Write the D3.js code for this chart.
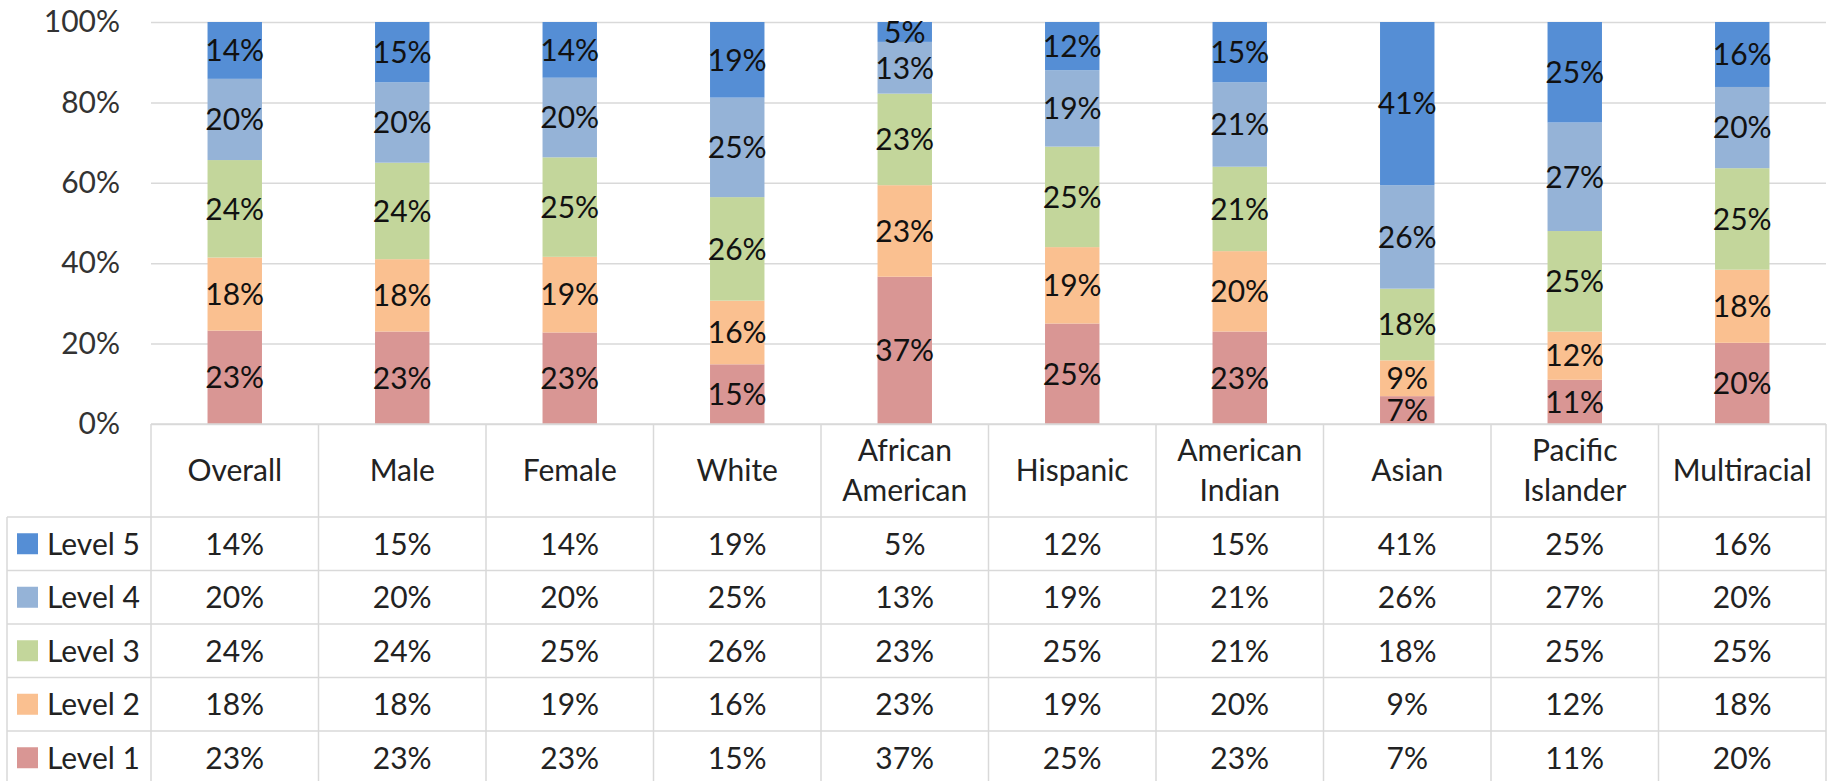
<!DOCTYPE html>
<html>
<head>
<meta charset="utf-8">
<script src="https://cdn.jsdelivr.net/npm/d3@7"></script>
<style>
  body { margin: 0; background: #fff; }
  svg { display: block; font-family: Lato, "Open Sans", sans-serif; }
</style>
</head>
<body>
<svg id="chart" width="1831" height="781"></svg>
<script>
// data
var categories = ['Overall', 'Male', 'Female', 'White', 'African American', 'Hispanic',
    'American Indian', 'Asian', 'Pacific Islander', 'Multiracial'];
var levels = ['Level 1', 'Level 2', 'Level 3', 'Level 4', 'Level 5'];
var level1 = [23, 23, 23, 15, 37, 25, 23, 7, 11, 20];
var level2 = [18, 18, 19, 16, 23, 19, 20, 9, 12, 18];
var level3 = [24, 24, 25, 26, 23, 25, 21, 18, 25, 25];
var level4 = [20, 20, 20, 25, 13, 19, 21, 26, 27, 20];
var level5 = [14, 15, 14, 19, 5, 12, 15, 41, 25, 16];
var yTicks = [0, 0.2, 0.4, 0.6, 0.8, 1];

var colors = ['#D99694', '#FAC090', '#C3D69B', '#95B3D7', '#558ED5'];

var width = 1831, height = 781;
var plot = { left: 151, right: 1826, top: 22, bottom: 424 };
var tbl = { legendLeft: 7, headBottom: 517, rowHgt: 53.5 };
var fs = 30;
var lineCol = '#D9D9D9';

var series = [level1, level2, level3, level4, level5];
var rows = categories.map(function(c, i) {
    var r = { cat: c };
    levels.forEach(function(l, j) { r[l] = series[j][i]; });
    return r;
});
var stacked = d3.stack().keys(levels).offset(d3.stackOffsetExpand)(rows);

var x = d3.scaleBand().domain(categories).range([plot.left, plot.right]);
var y = d3.scaleLinear().domain([0, 1]).range([plot.bottom, plot.top]);
var color = d3.scaleOrdinal().domain(levels).range(colors);
var barW = x.bandwidth() * 0.325;

var svg = d3.select('#chart');

// gridlines + y labels
var yAxis = svg.append('g')
    .attr('transform', 'translate(' + plot.left + ',0)')
    .call(d3.axisLeft(y).tickValues(yTicks).tickFormat(d3.format('.0%'))
        .tickSize(-(plot.right - plot.left)).tickPadding(31));
yAxis.select('.domain').remove();
yAxis.selectAll('line').attr('stroke', lineCol).attr('stroke-width', 1.5);
yAxis.selectAll('text').attr('font-size', fs).attr('fill', '#333')
    .attr('font-family', 'Lato, sans-serif');

// bars
var layer = svg.append('g').selectAll('g')
    .data(stacked).join('g')
    .attr('fill', function(d) { return color(d.key); });

layer.selectAll('rect')
    .data(function(d) { return d; }).join('rect')
    .attr('x', function(d) { return x(d.data.cat) + (x.bandwidth() - barW) / 2; })
    .attr('width', barW)
    .attr('y', function(d) { return y(d[1]); })
    .attr('height', function(d) { return y(d[0]) - y(d[1]); });

// data labels
var lbl = svg.append('g').selectAll('g')
    .data(stacked).join('g');
lbl.selectAll('text')
    .data(function(s) { return s.map(function(d) { d.key = s.key; return d; }); })
    .join('text')
    .attr('x', function(d) { return x(d.data.cat) + x.bandwidth() / 2; })
    .attr('y', function(d) { return (y(d[0]) + y(d[1])) / 2; })
    .attr('dy', '0.36em')
    .attr('text-anchor', 'middle')
    .attr('font-size', fs)
    .attr('fill', '#111')
    .text(function(d) { return d.data[d.key] + '%'; });

// data table
var tableRows = levels.slice().reverse();
var rowY = function(i) { return tbl.headBottom + i * tbl.rowHgt; };
var tBottom = rowY(tableRows.length);
var grid = svg.append('g').attr('stroke', lineCol).attr('stroke-width', 1.5);

grid.append('line')
    .attr('x1', plot.left).attr('x2', plot.right)
    .attr('y1', plot.bottom).attr('y2', plot.bottom);
grid.selectAll('line.h')
    .data(d3.range(tableRows.length + 1)).join('line').attr('class', 'h')
    .attr('x1', tbl.legendLeft).attr('x2', plot.right)
    .attr('y1', rowY).attr('y2', rowY);
grid.selectAll('line.v')
    .data([plot.left].concat(categories.map(function(c) { return x(c) + x.bandwidth(); })))
    .join('line').attr('class', 'v')
    .attr('x1', function(d) { return d; }).attr('x2', function(d) { return d; })
    .attr('y1', plot.bottom).attr('y2', tBottom);
grid.append('line')
    .attr('x1', tbl.legendLeft).attr('x2', tbl.legendLeft)
    .attr('y1', tbl.headBottom).attr('y2', tBottom);

// category headers
var head = svg.append('g').selectAll('text')
    .data(categories).join('text')
    .attr('text-anchor', 'middle')
    .attr('font-size', fs)
    .attr('fill', '#222')
    .attr('transform', function(d) {
        return 'translate(' + (x(d) + x.bandwidth() / 2) + ',' + (plot.bottom + tbl.headBottom) / 2 + ')';
    });
head.each(function(d) {
    var words = d.split(' ');
    var t = d3.select(this);
    words.forEach(function(w, i) {
        t.append('tspan')
            .attr('x', 0)
            .attr('y', (i - (words.length - 1) / 2) * 40)
            .attr('dy', '0.36em')
            .text(w);
    });
});

// table rows
var tr = svg.append('g').selectAll('g')
    .data(tableRows).join('g')
    .attr('transform', function(d, i) { return 'translate(0,' + (rowY(i) + tbl.rowHgt / 2) + ')'; });

tr.append('rect')
    .attr('x', 17).attr('y', -10.5)
    .attr('width', 21).attr('height', 21)
    .attr('fill', function(d) { return color(d); });
tr.append('text')
    .attr('x', 47).attr('dy', '0.36em')
    .attr('font-size', fs).attr('fill', '#222')
    .text(function(d) { return d; });
tr.selectAll('text.v')
    .data(function(l) { var s = series[levels.indexOf(l)]; return categories.map(function(c, i) { return { cat: c, v: s[i] }; }); })
    .join('text').attr('class', 'v')
    .attr('x', function(d) { return x(d.cat) + x.bandwidth() / 2; })
    .attr('dy', '0.36em')
    .attr('text-anchor', 'middle')
    .attr('font-size', fs).attr('fill', '#222')
    .text(function(d) { return d.v + '%'; });
</script>
</body>
</html>
